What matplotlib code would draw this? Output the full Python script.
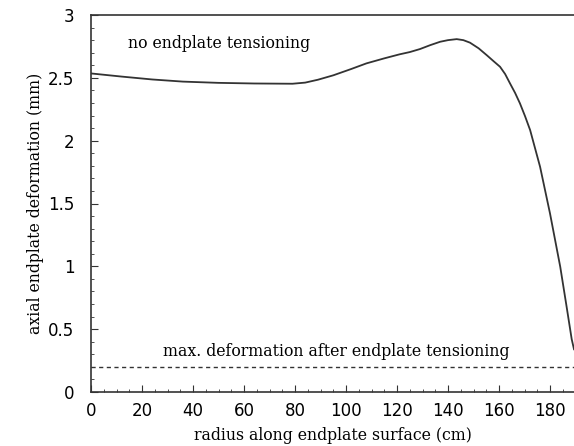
import numpy as np
import matplotlib
matplotlib.use("Agg")
import matplotlib.pyplot as plt
from matplotlib.ticker import MultipleLocator

# curve: radius (cm) vs axial deformation (mm)
radius = [0, 12, 24, 36, 50, 64, 79, 84, 89, 95, 102, 108, 115, 121, 125,
          129, 133, 136.9, 140, 143.4, 146, 148.6, 152, 155.2, 158, 160.4,
          162.4, 164.3, 166.3, 168.2, 170.2, 172.2, 176.1, 180.0, 184.0,
          186.5, 188.5, 189.4]
deform = [2.535, 2.51, 2.487, 2.47, 2.46, 2.455, 2.453, 2.462, 2.485, 2.52,
          2.57, 2.615, 2.655, 2.687, 2.705, 2.729, 2.76, 2.787, 2.8, 2.808,
          2.8, 2.78, 2.735, 2.68, 2.63, 2.588, 2.53, 2.456, 2.38, 2.297,
          2.195, 2.084, 1.792, 1.42, 0.997, 0.679, 0.42, 0.34]
max_after = 0.2

serif = "DejaVu Serif"

fig = plt.figure(figsize=(5.74, 4.46), dpi=100)
ax = fig.add_axes([91 / 574, 54 / 446, 483 / 574, 377 / 446])

ax.plot(radius, deform, color="#333333", lw=1.3)
ax.axhline(max_after, color="#333333", lw=1.0, ls=(0, (3, 2.5)))

lbl = dict(family=serif, stretch="condensed", fontsize=12.6)
ax.text(14.5, 2.77, "no endplate tensioning", va="center", ha="left", **lbl)
ax.text(28.2, 0.32, "max. deformation after endplate tensioning",
        va="center", ha="left", **lbl)

ax.set_xlim(0, 189.4)
ax.set_ylim(0, 3)
ax.xaxis.set_major_locator(MultipleLocator(20))
ax.xaxis.set_minor_locator(MultipleLocator(5))
ax.yaxis.set_major_locator(MultipleLocator(0.5))
ax.yaxis.set_minor_locator(MultipleLocator(0.1))
ax.yaxis.set_major_formatter(plt.FuncFormatter(lambda v, p: f"{v:g}"))
ax.tick_params(which="both", direction="in", color="#333333")
ax.tick_params(which="major", length=5, labelsize=12, pad=7)
ax.tick_params(which="minor", length=2.5)
ax.tick_params(axis="y", pad=12)
ax.spines["right"].set_visible(False)
for s in ("left", "bottom", "top"):
    ax.spines[s].set_color("#333333")
    ax.spines[s].set_linewidth(1.2)

ax.set_xlabel("radius along endplate surface (cm)", labelpad=5, **lbl)
ax.set_ylabel("axial endplate deformation (mm)", labelpad=3, **lbl)

fig.savefig("out.png", dpi=100)
